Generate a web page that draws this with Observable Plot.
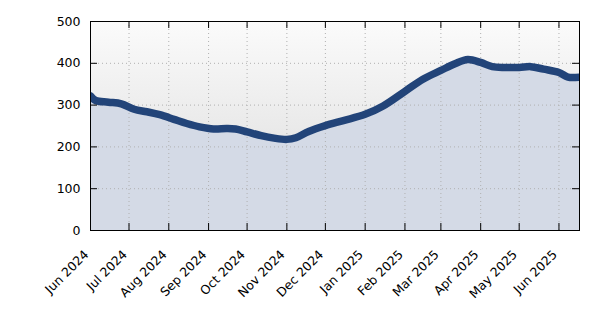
<!DOCTYPE html>
<html>
<head>
<meta charset="utf-8">
<script src="https://cdn.jsdelivr.net/npm/d3@7"></script>
<script src="https://cdn.jsdelivr.net/npm/@observablehq/plot@0.6"></script>
<style>
  html, body { margin: 0; padding: 0; background: white; }
</style>
</head>
<body>
<div id="chart"></div>
<script>
const dates = [
  "2024-06-01","2024-06-05","2024-06-15","2024-06-25","2024-07-05","2024-07-15","2024-07-25",
  "2024-08-05","2024-08-15","2024-08-25","2024-09-05","2024-09-15","2024-09-22","2024-10-01",
  "2024-10-12","2024-10-22","2024-11-01","2024-11-08","2024-11-18","2024-12-01","2024-12-15",
  "2025-01-01","2025-01-15","2025-02-01","2025-02-15","2025-03-01","2025-03-12","2025-03-22",
  "2025-04-01","2025-04-10","2025-04-20","2025-05-01","2025-05-10","2025-05-20","2025-06-01",
  "2025-06-08","2025-06-17"
];
const values = [
  322, 311, 307, 303, 290, 284, 277,
  266, 256, 248, 243, 244, 243, 236,
  227, 221, 218, 222, 237, 251, 263,
  278, 298, 333, 362, 383, 399, 409,
  402, 392, 390, 390, 392, 386, 378,
  367, 367
];
const xTickLabels = ["Jun 2024","Jul 2024","Aug 2024","Sep 2024","Oct 2024","Nov 2024","Dec 2024",
  "Jan 2025","Feb 2025","Mar 2025","Apr 2025","May 2025","Jun 2025"];
const xTickDates = ["2024-06-01","2024-07-01","2024-08-01","2024-09-01","2024-10-01","2024-11-01","2024-12-01",
  "2025-01-01","2025-02-01","2025-03-01","2025-04-01","2025-05-01","2025-06-01"];
const yTicks = [0, 100, 200, 300, 400, 500];
const xDomain = ["2024-06-01", "2025-06-17"];

const data = dates.map((d, i) => ({date: new Date(d), value: values[i]}));
const xticks = xTickDates.map(d => new Date(d));
const labelOf = new Map(xticks.map((d, i) => [+d, xTickLabels[i]]));

const W = 594, H = 325, mL = 90, mR = 15, mT = 21, mB = 95;
const innerW = W - mL - mR, innerH = H - mT - mB;
const lineColor = "#224479";
const gridStyle = {stroke: "#b0b0b0", strokeOpacity: 1, strokeWidth: 1, strokeDasharray: "1,3"};

const chart = Plot.plot({
  width: W, height: H,
  marginLeft: mL, marginRight: mR, marginTop: mT, marginBottom: mB,
  style: {fontFamily: "DejaVu Sans", fontSize: "12px", background: "white", color: "black"},
  x: {type: "utc", domain: xDomain.map(d => new Date(d))},
  y: {domain: [0, 500]},
  marks: [
    Plot.frame({fill: "url(#bggrad)", stroke: "none"}),
    Plot.areaY(data, {x: "date", y: "value", fill: "#d4dae6", curve: "catmull-rom", clip: true}),
    Plot.gridX(xticks, gridStyle),
    Plot.gridY(yTicks, gridStyle),
    Plot.lineY(data, {x: "date", y: "value", stroke: lineColor, strokeWidth: 7.5, curve: "catmull-rom", clip: true}),
    Plot.frame({stroke: "black", strokeWidth: 1}),
    Plot.tickX(xticks, {x: d => d, insetTop: innerH - 7, stroke: "black"}),
    Plot.tickX(xticks, {x: d => d, insetBottom: innerH - 7, stroke: "black"}),
    Plot.tickY(yTicks, {y: d => d, insetRight: innerW - 7, stroke: "black"}),
    Plot.tickY(yTicks, {y: d => d, insetLeft: innerW - 7, stroke: "black"}),
    Plot.axisX({ticks: xticks, tickSize: 0, tickRotate: -45, tickPadding: 6, dy: 16, dx: -4, fontSize: 12.5, tickFormat: d => labelOf.get(+d), label: null}),
    Plot.axisY({ticks: yTicks, tickSize: 0, tickPadding: 10, fontSize: 12.5, label: null})
  ]
});

const ns = "http://www.w3.org/2000/svg";
const defs = document.createElementNS(ns, "defs");
const grad = document.createElementNS(ns, "linearGradient");
grad.setAttribute("id", "bggrad");
grad.setAttribute("x1", "0"); grad.setAttribute("y1", "0");
grad.setAttribute("x2", "0"); grad.setAttribute("y2", "1");
[["0", "#fbfbfb"], ["1", "#d9d9d9"]].forEach(([o, c]) => {
  const s = document.createElementNS(ns, "stop");
  s.setAttribute("offset", o); s.setAttribute("stop-color", c);
  grad.appendChild(s);
});
defs.appendChild(grad);
chart.insertBefore(defs, chart.firstChild);
document.getElementById("chart").appendChild(chart);
</script>
</body>
</html>
